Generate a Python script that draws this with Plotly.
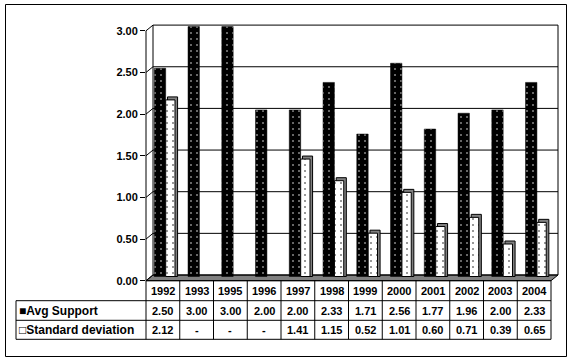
import plotly.graph_objects as go

# ---------------- data ----------------
years = ["1992", "1993", "1995", "1996", "1997", "1998", "1999",
         "2000", "2001", "2002", "2003", "2004"]
avg_support = [2.50, 3.00, 3.00, 2.00, 2.00, 2.33, 1.71, 2.56, 1.77, 1.96, 2.00, 2.33]
std_dev = [2.12, None, None, None, 1.41, 1.15, 0.52, 1.01, 0.60, 0.71, 0.39, 0.65]
series_names = ["Avg Support", "Standard deviation"]
y_ticks = [0, 0.5, 1.0, 1.5, 2.0, 2.5, 3.0]

# ---------------- layout geometry (pixels) ----------------
W, H = 573, 361
L, R, T, B = 146, 15, 24, 80
PW = W - L - R
PH = H - T - B
BOT = T + PH
S = 83.3            # pixels per unit
DX, DY = 7, 5.7     # 3D depth offset
C_BAR, C_GRID, C_TICK = 276.5, 275.0, 280.7
UNIT = (PW - DX) / len(years)
CAP = 3.0 / S


def px(x):
    return (x - L) / PW


def py(y):
    return (BOT - y) / PH


def rng(c):
    return [(c - BOT) / S, (c - T) / S]


FONT = "Liberation Sans, Arial, sans-serif"

fig = go.Figure()

fig.add_trace(go.Bar(
    x=years, y=avg_support, name=series_names[0],
    offset=-0.255, width=0.338,
    marker=dict(color="black", line=dict(color="black", width=0.5),
                pattern=dict(shape=".", fgcolor="white", bgcolor="black",
                             size=6, solidity=0.05, fillmode="replace")),
    showlegend=False, hoverinfo="skip"))

shadow = [None if v is None else v + CAP for v in std_dev]
fig.add_trace(go.Bar(
    x=years, y=shadow,
    offset=0.136, width=0.30,
    marker=dict(color="#808080", line=dict(color="black", width=1)),
    showlegend=False, hoverinfo="skip"))

fig.add_trace(go.Bar(
    x=years, y=std_dev, name=series_names[1],
    offset=0.083, width=0.276,
    marker=dict(color="white", line=dict(color="black", width=1),
                pattern=dict(shape=".", fgcolor="black", bgcolor="white",
                             size=6, solidity=0.05, fillmode="replace")),
    showlegend=False, hoverinfo="skip"))

shapes = []
ymax = y_ticks[-1]
# floor
shapes.append(dict(
    type="path", xref="paper", yref="paper", layer="below",
    path=(f"M {px(L)},{py(C_TICK)} L {px(L + PW - DX)},{py(C_TICK)} "
          f"L 1,{py(C_GRID)} L {px(L + DX)},{py(C_GRID)} Z"),
    fillcolor="#808080", line=dict(color="black", width=1)))
# back wall gridlines
for v in y_ticks:
    shapes.append(dict(type="line", xref="paper", yref="y2", layer="below",
                       x0=px(L + DX), x1=1, y0=v, y1=v,
                       line=dict(color="black", width=1)))
# back wall edges
for xv in (px(L + DX), 1):
    shapes.append(dict(type="line", xref="paper", yref="y2", layer="below",
                       x0=xv, x1=xv, y0=0, y1=ymax,
                       line=dict(color="black", width=1)))
# front axis line
shapes.append(dict(type="line", xref="paper", yref="y3",
                   x0=0, x1=0, y0=0, y1=ymax,
                   line=dict(color="black", width=1)))
# diagonals from front ticks to back wall
for v in y_ticks:
    shapes.append(dict(type="line", xref="paper", yref="y3",
                       x0=0, x1=px(L + DX), y0=v, y1=v + DY / S,
                       line=dict(color="black", width=1)))

# table grid
row_lines = [C_TICK, 300.7, 320.3, 339.3]
label_left = 16
tab_right = px(L + PW - DX)
for i, yl in enumerate(row_lines):
    x0 = px(L) if i == 0 else px(label_left)
    shapes.append(dict(type="line", xref="paper", yref="paper",
                       x0=x0, x1=tab_right, y0=py(yl), y1=py(yl),
                       line=dict(color="black", width=1)))
shapes.append(dict(type="line", xref="paper", yref="paper",
                   x0=px(label_left), x1=px(label_left),
                   y0=py(row_lines[1]), y1=py(row_lines[-1]),
                   line=dict(color="black", width=1)))
for i in range(len(years) + 1):
    xv = px(L + i * UNIT)
    shapes.append(dict(type="line", xref="paper", yref="paper",
                       x0=xv, x1=xv, y0=py(row_lines[0]), y1=py(row_lines[-1]),
                       line=dict(color="black", width=1)))
# outer border
shapes.append(dict(type="rect", xref="paper", yref="paper",
                   x0=px(5.5), x1=px(566.5), y0=py(4.5), y1=py(356.5),
                   line=dict(color="black", width=1)))

annotations = []
tfont = dict(family=FONT, size=11, color="black", weight="bold")
lfont = dict(family=FONT, size=12, color="black", weight="bold")
row_mid = [(row_lines[k] + row_lines[k + 1]) / 2 + 0.5 for k in range(3)]
common = dict(xref="paper", yref="paper", showarrow=False, font=tfont,
              xanchor="center", yanchor="middle")
for i, yr in enumerate(years):
    cx = px(L + (i + 0.5) * UNIT)
    annotations.append(dict(x=cx, y=py(row_mid[0]), text=yr, **common))
    annotations.append(dict(x=cx, y=py(row_mid[1]),
                            text=f"{avg_support[i]:.2f}", **common))
    sv = std_dev[i]
    annotations.append(dict(x=cx, y=py(row_mid[2]),
                            text="-" if sv is None else f"{sv:.2f}", **common))
left_common = dict(common, xanchor="left", font=lfont)
annotations.append(dict(x=px(17), y=py(row_mid[1]),
                        text="■" + series_names[0], **left_common))
annotations.append(dict(x=px(17), y=py(row_mid[2]),
                        text="□" + series_names[1], **left_common))

fig.update_layout(
    width=W, height=H,
    margin=dict(l=L, r=R, t=T, b=B, pad=0),
    paper_bgcolor="white", plot_bgcolor="white",
    barmode="overlay",
    xaxis=dict(type="category", range=[-0.5, len(years) - 0.5 + DX / UNIT],
               showticklabels=False, showgrid=False, zeroline=False,
               showline=False, ticks=""),
    yaxis=dict(range=rng(C_BAR), visible=False, showgrid=False, zeroline=False),
    yaxis2=dict(range=rng(C_GRID), overlaying="y", visible=False,
                showgrid=False, zeroline=False),
    yaxis3=dict(range=rng(C_TICK), overlaying="y", side="left",
                tickvals=y_ticks, ticktext=[f"{v:.2f}" for v in y_ticks],
                ticks="outside", ticklen=5, tickcolor="black",
                tickfont=tfont, showgrid=False, zeroline=False, showline=False),
    shapes=shapes, annotations=annotations,
    showlegend=False,
)

fig.write_html("out.html",
               config={"displayModeBar": False},
               post_script="document.body.style.margin='0';"
                           "document.body.style.overflow='hidden';")
